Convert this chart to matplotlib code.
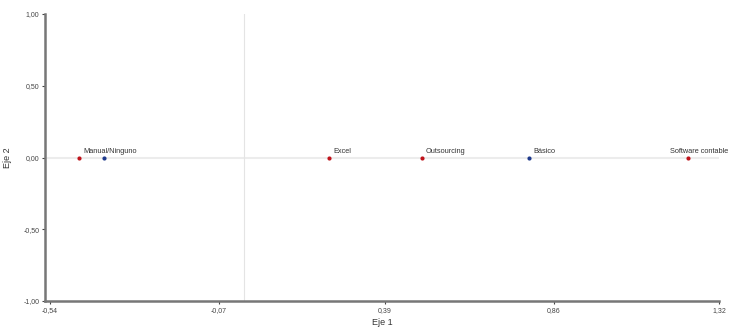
import matplotlib
matplotlib.use("Agg")
import matplotlib.pyplot as plt

plt.rcParams["font.family"] = ["Liberation Sans", "DejaVu Sans"]

# Data
red_labels = ["Manual/Ninguno", "Excel", "Outsourcing", "Software contable"]
red_x = [-0.46, 0.236, 0.494, 1.234]
red_y = [0.0, 0.0, 0.0, 0.0]
blue_labels = ["", "Básico"]
blue_x = [-0.39, 0.792]
blue_y = [0.0, 0.0]
xticks = [-0.54, -0.07, 0.39, 0.86, 1.32]
xtick_labels = ["-0,54", "-0,07", "0,39", "0,86", "1,32"]
yticks = [1.0, 0.5, 0.0, -0.5, -1.0]
ytick_labels = ["1,00", "0,50", "0,00", "-0,50", "-1,00"]

W, H = 731, 327
fig = plt.figure(figsize=(W / 100, H / 100), dpi=100)
ax = fig.add_axes([45 / W, 1 - 301 / H, (719 - 45) / W, (301 - 14) / H])

ax.set_xlim(-0.554, 1.32)
ax.set_ylim(-1.0, 1.0)

# reference lines
ax.axhline(0, color="#ececec", lw=1.5, zorder=1)
ax.axvline(0, color="#e4e4e4", lw=0.8, zorder=1)

ax.scatter(red_x, red_y, s=9, color="#c0141c", zorder=3, linewidths=0)
ax.scatter(blue_x, blue_y, s=9, color="#1f3a8c", zorder=3, linewidths=0)

for lbl, x, y in zip(red_labels, red_x, red_y):
    if lbl == "Software contable":
        ax.annotate(lbl, (x, y), xytext=(-13, 2), textcoords="offset points",
                    fontsize=5.3, color="#333333", ha="left", va="bottom",
                    annotation_clip=False)
    else:
        ax.annotate(lbl, (x, y), xytext=(3, 2), textcoords="offset points",
                    fontsize=5.3, color="#333333", ha="left", va="bottom")
for lbl, x, y in zip(blue_labels, blue_x, blue_y):
    if lbl:
        ax.annotate(lbl, (x, y), xytext=(3, 2), textcoords="offset points",
                    fontsize=5.3, color="#333333", ha="left", va="bottom")

for side in ["top", "right"]:
    ax.spines[side].set_visible(False)
for side in ["left", "bottom"]:
    ax.spines[side].set_color("#777777")
    ax.spines[side].set_linewidth(1.8)

ax.set_xticks(xticks)
ax.set_xticklabels(xtick_labels)
ax.set_yticks(yticks)
ax.set_yticklabels(ytick_labels)
ax.tick_params(axis="both", labelsize=5, colors="#444444", length=2, width=0.8, pad=2)

ax.set_xlabel("Eje 1", fontsize=6.5, color="#333333", labelpad=3)
ax.set_ylabel("Eje 2", fontsize=6.5, color="#333333", labelpad=8)

fig.savefig("out.png", dpi=100)
